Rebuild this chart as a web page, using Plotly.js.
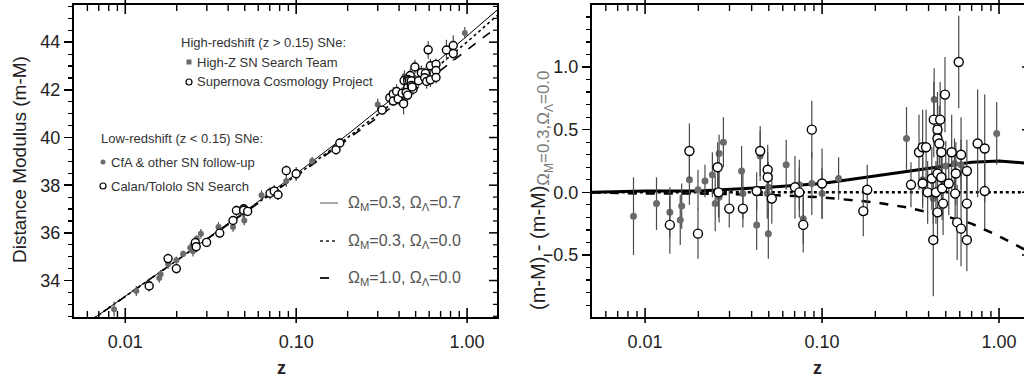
<!DOCTYPE html>
<html>
<head>
<meta charset="utf-8">
<script src="https://cdn.plot.ly/plotly-3.0.1.min.js"></script>
<style>
html,body{margin:0;padding:0;overflow:hidden;background:#fff;}
#plot{width:1040px;height:383px;}
</style>
</head>
<body>
<div id="plot"></div>
<script>
// ---------------- data ----------------
// Low-redshift: CfA & other SN follow-up (filled grey)
const zCfA   = [0.0086,0.0116,0.0138,0.0158,0.0161,0.0178,0.0199,0.0218,0.0240,0.0249,0.0262,0.0262,0.0277,0.0351,0.0357,0.0447,0.0427,0.0497,0.0490,0.0497,0.0627,0.0744,0.0783,0.0875,0.1000,0.1240];
const muCfA  = [32.80,33.56,33.87,34.11,34.26,34.69,34.85,35.12,35.38,35.23,35.75,35.40,35.96,36.25,36.11,36.90,36.25,36.89,36.81,36.52,37.58,37.81,37.65,38.18,38.40,39.01];
const resCfA = [-0.19,-0.09,-0.16,-0.22,-0.11,0.10,0.02,0.09,0.14,-0.09,0.31,-0.04,0.40,0.17,-0.01,0.29,-0.26,0.04,-0.01,-0.33,0.22,0.06,-0.21,0.07,-0.01,0.11];
const errCfA = [0.31,0.21,0.20,0.20,0.18,0.20,0.16,0.13,0.18,0.22,0.15,0.20,0.20,0.20,0.20,0.20,0.20,0.20,0.20,0.20,0.20,0.20,0.20,0.25,0.20,0.17];

// Low-redshift: Calan/Tololo SN Search (open)
const zCT   = [0.0138,0.0178,0.0199,0.0257,0.0260,0.0299,0.0357,0.0447,0.0427,0.0493,0.0493,0.0520,0.0703,0.0744,0.0783,0.0875,0.1000];
const muCT  = [33.77,34.92,34.50,35.59,35.42,35.60,35.99,36.94,36.52,37.01,36.95,36.90,37.66,37.75,37.60,38.61,38.48];
const resCT = [-0.26,0.33,-0.33,0.20,0.00,-0.13,-0.13,0.33,0.01,0.18,0.12,-0.05,0.04,0.00,-0.26,0.50,0.07];
const errCT = [0.23,0.22,0.20,0.20,0.20,0.15,0.15,0.20,0.15,0.20,0.20,0.20,0.25,0.20,0.22,0.23,0.28];

// High-redshift: High-Z SN Search Team (filled grey)
const zHZ   = [0.300,0.370,0.425,0.430,0.500,0.560,0.610,0.970];
const muHZ  = [41.39,41.56,41.75,42.57,42.42,42.73,42.93,44.39];
const resHZ = [0.43,0.10,-0.05,0.74,0.21,0.23,0.22,0.47];
const errHZ = [0.25,0.20,0.20,0.25,0.20,0.20,0.20,0.25];

// High-redshift: Supernova Cosmology Project (open)
const zSCP   = [0.171,0.180,0.318,0.353,0.370,0.387,0.370,0.395,0.417,0.425,0.428,0.465,0.449,0.449,0.460,0.472,0.495,0.592,0.449,0.472,0.483,0.440,0.449,0.477,0.520,0.540,0.570,0.565,0.580,0.610,0.610,0.658,0.658,0.658,0.757,0.830,0.830];
const muSCP  = [39.49,39.77,41.15,41.67,41.82,41.93,41.53,41.62,41.86,41.42,42.39,42.60,42.44,42.37,42.39,42.38,42.96,43.68,42.09,42.18,42.03,41.89,41.78,42.12,42.38,42.72,42.69,42.51,42.35,43.01,42.42,43.07,42.81,42.52,43.67,43.86,43.52];
const resSCP = [-0.15,0.02,0.06,0.32,0.36,0.36,0.07,0.00,0.11,-0.38,0.58,0.58,0.50,0.43,0.39,0.32,0.78,1.04,0.15,0.12,-0.09,0.00,-0.16,0.03,0.07,0.32,0.15,-0.01,-0.24,0.30,-0.29,0.17,-0.09,-0.38,0.39,0.35,0.01];
const errSCP = [0.20,0.20,0.18,0.30,0.30,0.30,0.20,0.25,0.25,0.45,0.30,0.30,0.30,0.30,0.30,0.30,0.30,0.37,0.25,0.25,0.25,0.25,0.25,0.25,0.25,0.30,0.25,0.25,0.30,0.30,0.30,0.25,0.25,0.25,0.43,0.43,0.30];

// Model curves
const zModel   = [0.005,0.01,0.02,0.05,0.1,0.2,0.3,0.5,0.7,1.0,1.5];
const muLambda = [31.83,33.34,34.85,36.90,38.48,40.13,41.13,42.42,43.31,44.26,45.35];
const muOpen   = [31.83,33.33,34.84,36.86,38.41,40.00,40.96,42.21,43.07,44.01,45.12];
const muEdS    = [31.82,33.32,34.83,36.84,38.37,39.92,40.84,42.02,42.82,43.66,44.64];
const resLambda= [0.00,0.01,0.01,0.04,0.07,0.13,0.17,0.21,0.24,0.25,0.23];
const resOpen  = [0,0,0,0,0,0,0,0,0,0,0];
const resEdS   = [0.00,-0.01,-0.01,-0.02,-0.04,-0.08,-0.12,-0.19,-0.25,-0.35,-0.48];

// Tick labels / tick positions
const xTickVals = [0.01,0.1,1];
const xTickText = ['0.01','0.10','1.00'];
const xMinorVals = [0.006,0.007,0.008,0.009,0.02,0.03,0.04,0.05,0.06,0.07,0.08,0.09,0.2,0.3,0.4,0.5,0.6,0.7,0.8,0.9];

// ---------------- drawing ----------------
const W = 1040, H = 383;
const px = v => v / W;
const py = v => 1 - v / H;

const GREY = '#6b6b6b';
const ERR = '#4a4a4a';

function filled(x, y, e, xa, ya, sym, size) {
  return {x:x, y:y, xaxis:xa, yaxis:ya, type:'scatter', mode:'markers',
    marker:{symbol:sym, size:size, color:GREY, line:{width:0}},
    error_y:{type:'data', array:e, visible:true, color:ERR, thickness:1.2, width:0},
    hoverinfo:'skip'};
}
function open(x, y, e, xa, ya, size) {
  return {x:x, y:y, xaxis:xa, yaxis:ya, type:'scatter', mode:'markers',
    marker:{symbol:'circle', size:size, color:'#ffffff', line:{width:1.4, color:'#000'}},
    error_y:{type:'data', array:e, visible:true, color:ERR, thickness:1.2, width:0},
    hoverinfo:'skip'};
}
function curve(x, y, xa, ya, dash, w) {
  return {x:x, y:y, xaxis:xa, yaxis:ya, type:'scatter', mode:'lines',
    line:{color:'#000', width:w, dash:dash}, hoverinfo:'skip'};
}

const data = [
  curve(zModel, muLambda, 'x', 'y', 'solid', 1),
  curve(zModel, muOpen, 'x', 'y', 'dot', 1.6),
  curve(zModel, muEdS, 'x', 'y', 'dash', 1.6),
  filled(zCfA, muCfA, errCfA, 'x', 'y', 'circle', 6),
  filled(zHZ, muHZ, errHZ, 'x', 'y', 'circle', 6),
  open(zCT, muCT, errCT, 'x', 'y', 8),
  open(zSCP, muSCP, errSCP, 'x', 'y', 8),

  curve(zModel, resLambda, 'x2', 'y2', 'solid', 3),
  curve(zModel, resOpen, 'x2', 'y2', 'dot', 2.5),
  curve(zModel, resEdS, 'x2', 'y2', 'dash', 2.5),
  filled(zCfA, resCfA, errCfA, 'x2', 'y2', 'circle', 7),
  filled(zHZ, resHZ, errHZ, 'x2', 'y2', 'circle', 7),
  open(zCT, resCT, errCT, 'x2', 'y2', 9),
  open(zSCP, resSCP, errSCP, 'x2', 'y2', 9)
];

const FONT = 'Liberation Sans, Arial, sans-serif';
const xRange = [-2.3, 0.175];
const TOP = 5, BOT = 317;
const yDom = [py(BOT), py(TOP)];
const panels = [
  {xa:'x', ya:'y', left:74, right:497, range:[32.47, 45.56], dt:2, mdt:0.5},
  {xa:'x2', ya:'y2', left:592, right:1030, range:[-0.995, 1.495], dt:0.5, mdt:0.1}
];

function xAxis(p) {
  return {domain:[px(p.left), px(p.right)], anchor:p.ya, type:'log', range:xRange, autorange:false,
    tickmode:'array', tickvals:xTickVals, ticktext:xTickText, ticks:'',
    showline:true, linewidth:2, linecolor:'#000', mirror:true,
    showgrid:false, zeroline:false, ticklabelstandoff:7,
    tickfont:{family:FONT, size:18, color:'#222'}};
}
function yAxis(p, fmt) {
  return {domain:yDom, anchor:p.xa, range:p.range, autorange:false,
    tickmode:'linear', tick0:0, dtick:p.dt, tickformat:fmt,
    ticks:'outside', ticklen:8, tickwidth:1.5, tickcolor:'#000',
    showline:true, linewidth:2, linecolor:'#000', mirror:true,
    showgrid:false, zeroline:false,
    tickfont:{family:FONT, size:18, color:'#222'},
    minor:{tick0:0, dtick:p.mdt, ticks:'outside', ticklen:4, tickwidth:1.2, tickcolor:'#000', showgrid:false}};
}

const annFont = {family:FONT, size:13, color:'#333'};
const lineLegFont = {family:FONT, size:16, color:'#555'};
function ann(text, x, y, font, extra) {
  return Object.assign({text:text, xref:'paper', yref:'paper', x:px(x), y:py(y),
    xanchor:'left', yanchor:'middle', showarrow:false, font:font}, extra || {});
}

const annotations = [
  ann('High-redshift (z &gt; 0.15) SNe:', 179, 42, annFont),
  ann('High-Z SN Search Team', 195, 62, annFont),
  ann('Supernova Cosmology Project', 195, 82, annFont),
  ann('Low-redshift (z &lt; 0.15) SNe:', 99, 138, annFont),
  ann('CfA &amp; other SN follow-up', 109, 162, annFont),
  ann('Calan/Tololo SN Search', 109, 186, annFont),
  ann('Ω<sub>M</sub>=0.3, Ω<sub>Λ</sub>=0.7', 346, 203, lineLegFont),
  ann('Ω<sub>M</sub>=0.3, Ω<sub>Λ</sub>=0.0', 346, 241, lineLegFont),
  ann('Ω<sub>M</sub>=1.0, Ω<sub>Λ</sub>=0.0', 346, 278, lineLegFont),
  ann('Distance Modulus (m-M)', 19, 160, {family:FONT, size:19, color:'#222'},
      {xanchor:'center', yanchor:'middle', textangle:-90}),
  ann('(m-M) - (m-M)<sub><span style="font-size:17px;fill:#7a7a7a">Ω<sub>M</sub>=0.3,Ω<sub>Λ</sub>=0.0</span></sub>',
      541, 190, {family:FONT, size:20, color:'#222'},
      {xanchor:'center', yanchor:'middle', textangle:-90}),
  ann('<b>z</b>', 281, 368, {family:FONT, size:18, color:'#222'}, {xanchor:'center'}),
  ann('<b>z</b>', 817, 368, {family:FONT, size:18, color:'#222'}, {xanchor:'center'})
];

function dot(cx, cy, r, fill, line, sq) {
  return {type: sq ? 'rect' : 'circle', xref:'paper', yref:'paper',
    x0:px(cx - r), x1:px(cx + r), y0:py(cy + r), y1:py(cy - r),
    fillcolor:fill, line:{color:line, width: line === 'rgba(0,0,0,0)' ? 0 : 1.2}};
}
function seg(x0, x1, y, dash, w, col) {
  return {type:'line', xref:'paper', yref:'paper', x0:px(x0), x1:px(x1), y0:py(y), y1:py(y),
    line:{color:col, width:w, dash:dash}};
}

const shapes = [
  dot(189, 62, 2.5, GREY, 'rgba(0,0,0,0)', true),
  dot(189, 82, 3, '#fff', '#000', false),
  dot(103, 162, 2.5, GREY, 'rgba(0,0,0,0)', false),
  dot(103, 186, 3, '#fff', '#000', false),
  seg(320, 338, 203, 'solid', 1, '#555'),
  seg(320, 338, 241, 'dot', 1.5, '#222'),
  seg(320, 338, 278, 'dash', 2, '#222')
];

// tick marks: x ticks on bottom & top pointing inward (majors cross the line),
// y ticks on the right side pointing inward
function xTickPix(p, v) {
  return p.left + (Math.log10(v) - xRange[0]) / (xRange[1] - xRange[0]) * (p.right - p.left);
}
function vtick(xPix, yPix0, yPix1, w) {
  return {type:'line', xref:'paper', yref:'paper', x0:px(xPix), x1:px(xPix),
    y0:py(yPix0), y1:py(yPix1), line:{color:'#000', width:w}, layer:'above'};
}
function htick(ya, v, xPix0, xPix1, w) {
  return {type:'line', xref:'paper', yref:ya, x0:px(xPix0), x1:px(xPix1),
    y0:v, y1:v, line:{color:'#000', width:w}, layer:'above'};
}
panels.forEach(p => {
  xTickVals.forEach(v => {
    const xp = xTickPix(p, v);
    shapes.push(vtick(xp, BOT + 6, BOT - 9, 1.6));
    shapes.push(vtick(xp, TOP - 5, TOP + 9, 1.6));
  });
  xMinorVals.forEach(v => {
    const xp = xTickPix(p, v);
    shapes.push(vtick(xp, BOT, BOT - 6, 1.4));
    shapes.push(vtick(xp, TOP, TOP + 6, 1.4));
  });
  const n0 = Math.ceil(p.range[0] / p.mdt - 1e-9), n1 = Math.floor(p.range[1] / p.mdt + 1e-9);
  for (let k = n0; k <= n1; k++) {
    const v = +(k * p.mdt).toFixed(4);
    const major = Math.abs(v / p.dt - Math.round(v / p.dt)) < 1e-6;
    shapes.push(htick(p.ya, v, p.right - (major ? 8 : 4), p.right, major ? 1.5 : 1.2));
  }
});

const layout = {
  width:W, height:H, margin:{l:0, r:0, t:0, b:0, pad:0},
  paper_bgcolor:'#fff', plot_bgcolor:'#fff', showlegend:false,
  font:{family:FONT, color:'#222'},
  xaxis: xAxis(panels[0]),
  xaxis2: xAxis(panels[1]),
  yaxis: yAxis(panels[0], 'd'),
  yaxis2: yAxis(panels[1], '.1f'),
  annotations: annotations,
  shapes: shapes
};

Plotly.newPlot('plot', data, layout, {staticPlot:true, displayModeBar:false});
</script>
</body>
</html>
